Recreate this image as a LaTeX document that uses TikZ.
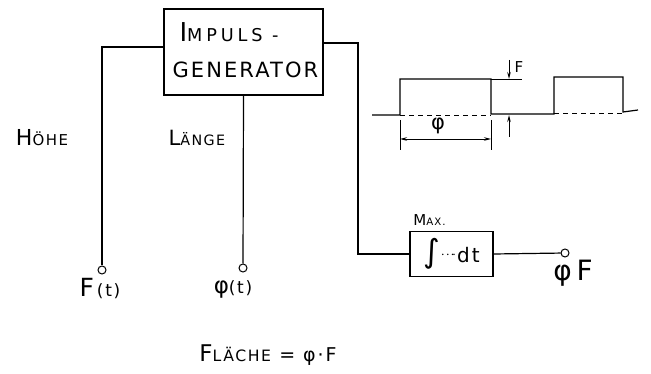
\documentclass[tikz,border=0pt]{standalone}
\usepackage{amsmath}
\usepackage{amssymb}
\usepackage{fontspec}
\setmainfont{DejaVu Sans}[LetterSpace=10]
\usepackage{tikz}
\usetikzlibrary{arrows.meta}

\newcommand{\hcap}[3]{{\fontsize{#1}{#1}\selectfont #2}{\fontsize{0.68\dimexpr#1pt\relax}{#1}\selectfont #3}}
\tikzset{
  block/.style={draw, line width=1.2pt, inner sep=0pt},
  terminal/.style={draw, circle, line width=1pt, inner sep=0pt, minimum size=8pt, fill=white},
  wire/.style={line width=1.2pt},
  dim/.style={line width=0.9pt, {Stealth[length=7pt,width=3.5pt]}-{Stealth[length=7pt,width=3.5pt]}}
}

\begin{document}
\begin{tikzpicture}[x=1pt, y=-1pt]
        \useasboundingbox (0,0) rectangle (651,374);
        % Impulsgenerator
        \node[block, minimum width=159pt, minimum height=86pt] (gen) at (243.5,52) {};
        \node[anchor=base west] (impuls) at (176,42)
          {\addfontfeatures{LetterSpace=22}\hcap{26}{I}{MPULS -}};
        \node[anchor=base west] (generator) at (169,78)
          {\fontsize{21}{21}\selectfont GENERATOR};
        \node[terminal] (ft) at (102,270) {};
        \node[terminal] (pt) at (243,268) {};
        \draw[wire] ([yshift=5pt]gen.west) -| (ft);
        \draw[wire] (gen.south) -- (pt);
        \node (ftlabel) at (100,289) {\hcap{25}{F}{\,(t)}};
        \node (ptlabel) at (233,289) {\fontsize{23}{23}\selectfont φ\fontsize{17}{17}\selectfont (t)};
        \node (hoehe) at (42,138) {\hcap{22}{H}{ÖHE}};
        \node (laenge) at (197,138) {\hcap{21}{L}{ÄNGE}};
        % Integrator
        \node[block, minimum width=83pt, minimum height=45pt] (int) at (451.5,254)
          {\fontsize{32}{32}\selectfont ∫\kern1pt\raisebox{4pt}{\fontsize{14}{14}\selectfont$\cdot\!\cdot\!\cdot\!\cdot$}\kern1pt\fontsize{20}{20}\selectfont dt};
        \node[anchor=south] (max) at ([xshift=-22pt,yshift=2pt]int.north) {\hcap{15}{M}{AX.}};
        \coordinate (bend) at (358,254);
        \draw[wire] ([yshift=9pt]gen.east) -| (bend) -- (int.west);
        \node[terminal] (out) at (565,253) {};
        \draw[wire] (int.east) -- (out);
        \node (outlabel) at (573,273) {\fontsize{28}{28}\selectfont φ\,F};
        % Impulsfolge
        \draw[wire] (372,115) -- (400,115) -- (400,79) -- (491,79) -- (491,114) -- (554,114)
          -- (554,77) -- (623,77) -- (623,112) -- (638,110);
        \draw[line width=0.9pt, dashed, dash pattern=on 5pt off 4pt] (400,115) -- (491,115);
        \draw[line width=0.9pt, dashed, dash pattern=on 5pt off 4pt] (554,113) -- (623,113);
        % Bemassung F
        \draw[line width=0.9pt] (491,79) -- (522,79);
        \draw[line width=0.9pt, -{Stealth[length=7pt,width=3.5pt]}] (509,60) -- (509,79);
        \draw[line width=0.9pt, -{Stealth[length=7pt,width=3.5pt]}] (509,137) -- (509,115);
        \node (flabel) at (519,67) {\fontsize{15}{15}\selectfont F};
        % Bemassung phi
        \draw[line width=0.9pt] (400,120) -- (400,150);
        \draw[line width=0.9pt] (491,120) -- (491,150);
        \draw[dim] (400,139) -- (491,139);
        \node (philabel) at (438,126) {\fontsize{21}{21}\selectfont φ};
        % Flaeche
        \node (flaeche) at (268,355) {\hcap{23}{F}{LÄCHE}\ \ \fontsize{19}{19}\selectfont = φ·F};
\end{tikzpicture}
\end{document}
